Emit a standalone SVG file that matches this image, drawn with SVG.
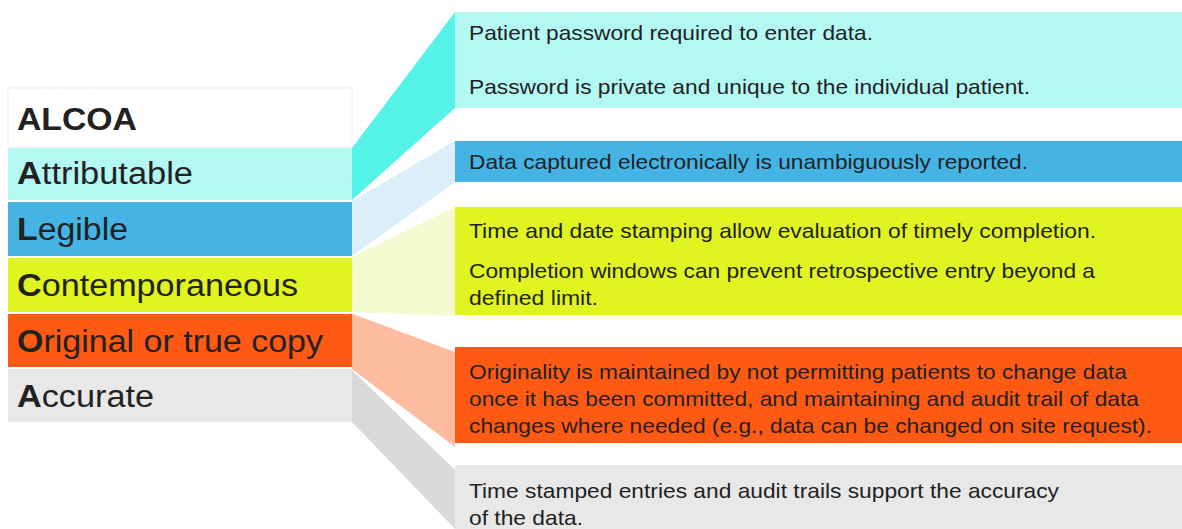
<svg xmlns="http://www.w3.org/2000/svg" width="1182" height="529" viewBox="0 0 1182 529">
  <style>
    .lbl { font-family: "Liberation Sans", Arial, sans-serif; font-size: 31px; fill: #222; }
    .txt { font-family: "Liberation Sans", Arial, sans-serif; font-size: 21px; fill: #222; }
    .b { font-weight: bold; }
  </style>
  <rect width="1182" height="529" fill="#ffffff"/>

  <!-- connectors: wedges joining each letter to its detail panel -->
  <g id="connectors">
    <polygon points="352,148 455,12 455,108 352,200" fill="#55F2E8"/>
    <polygon points="352,201 455,141 455,182 352,256" fill="#DCEEF9"/>
    <polygon points="352,257 455,207 455,316 352,312" fill="#F5FBD0"/>
    <polygon points="350,313 455,352 455,447 352,369" fill="#FDBBA0"/>
    <polygon points="352,370 455,470 455,529 352,422" fill="#DADADA"/>
  </g>

  <!-- left column: the ALCOA acronym -->
  <g id="header">
    <rect x="8" y="88" width="344" height="59" fill="#ffffff" stroke="#F0F0F0" stroke-width="1"/>
    <text class="lbl b" x="17" y="130" textLength="120" lengthAdjust="spacingAndGlyphs">ALCOA</text>
  </g>
  <g id="attributable">
    <rect x="8" y="148" width="344" height="52" fill="#B4F8F4"/>
    <text class="lbl" x="17" y="184" textLength="176" lengthAdjust="spacingAndGlyphs"><tspan class="b">A</tspan>ttributable</text>
  </g>
  <g id="legible">
    <rect x="8" y="202" width="344" height="54" fill="#45B4E4"/>
    <text class="lbl" x="17" y="240" textLength="111" lengthAdjust="spacingAndGlyphs"><tspan class="b">L</tspan>egible</text>
  </g>
  <g id="contemporaneous">
    <rect x="8" y="258" width="344" height="54" fill="#E0F420"/>
    <text class="lbl" x="17" y="296" textLength="281" lengthAdjust="spacingAndGlyphs"><tspan class="b">C</tspan>ontemporaneous</text>
  </g>
  <g id="original">
    <rect x="8" y="314" width="344" height="53" fill="#FF5A14"/>
    <text class="lbl" x="17" y="352" textLength="306" lengthAdjust="spacingAndGlyphs"><tspan class="b">O</tspan>riginal or true copy</text>
  </g>
  <g id="accurate">
    <rect x="8" y="369" width="344" height="53" fill="#E8E8E8"/>
    <text class="lbl" x="17" y="407" textLength="137" lengthAdjust="spacingAndGlyphs"><tspan class="b">A</tspan>ccurate</text>
  </g>

  <!-- right column: detail panels -->
  <g id="attributable-detail">
    <rect x="455" y="12" width="727" height="96" fill="#B4F8F4"/>
    <text class="txt" x="469" y="40" textLength="404" lengthAdjust="spacingAndGlyphs">Patient password required to enter data.</text>
    <text class="txt" x="469" y="94" textLength="561" lengthAdjust="spacingAndGlyphs">Password is private and unique to the individual patient.</text>
  </g>
  <g id="legible-detail">
    <rect x="455" y="141" width="727" height="41" fill="#45B4E4"/>
    <text class="txt" x="469" y="169" textLength="559" lengthAdjust="spacingAndGlyphs">Data captured electronically is unambiguously reported.</text>
  </g>
  <g id="contemporaneous-detail">
    <rect x="455" y="207" width="727" height="108" fill="#E0F420"/>
    <text class="txt" x="469" y="238" textLength="627" lengthAdjust="spacingAndGlyphs">Time and date stamping allow evaluation of timely completion.</text>
    <text class="txt" x="469" y="278" textLength="626" lengthAdjust="spacingAndGlyphs">Completion windows can prevent retrospective entry beyond a</text>
    <text class="txt" x="469" y="305" textLength="129" lengthAdjust="spacingAndGlyphs">defined limit.</text>
  </g>
  <g id="original-detail">
    <rect x="455" y="347" width="727" height="96" fill="#FF5A14"/>
    <text class="txt" x="469" y="379" textLength="658" lengthAdjust="spacingAndGlyphs">Originality is maintained by not permitting patients to change data</text>
    <text class="txt" x="469" y="406" textLength="670" lengthAdjust="spacingAndGlyphs">once it has been committed, and maintaining and audit trail of data</text>
    <text class="txt" x="469" y="433" textLength="683" lengthAdjust="spacingAndGlyphs">changes where needed (e.g., data can be changed on site request).</text>
  </g>
  <g id="accurate-detail">
    <rect x="455" y="465" width="727" height="64" fill="#E8E8E8"/>
    <text class="txt" x="469" y="498" textLength="590" lengthAdjust="spacingAndGlyphs">Time stamped entries and audit trails support the accuracy</text>
    <text class="txt" x="469" y="525" textLength="114" lengthAdjust="spacingAndGlyphs">of the data.</text>
  </g>
</svg>
